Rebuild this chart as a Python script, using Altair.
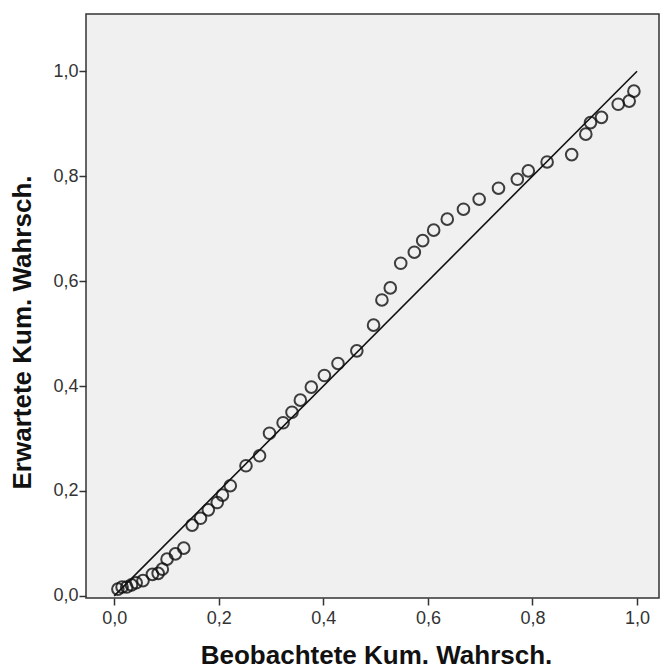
import altair as alt
import pandas as pd

# Observed cumulative probability (x) and expected cumulative probability (y)
observed = [0.007, 0.015, 0.024, 0.033, 0.042, 0.055, 0.073, 0.084, 0.092, 0.101,
            0.117, 0.133, 0.149, 0.165, 0.180, 0.197, 0.207, 0.222, 0.252, 0.278,
            0.297, 0.323, 0.340, 0.356, 0.377, 0.402, 0.428, 0.464, 0.496, 0.512,
            0.528, 0.548, 0.574, 0.590, 0.611, 0.637, 0.668, 0.698, 0.735, 0.771,
            0.792, 0.828, 0.875, 0.902, 0.911, 0.932, 0.964, 0.985, 0.994]
expected = [0.013, 0.017, 0.017, 0.021, 0.025, 0.029, 0.041, 0.043, 0.051, 0.070,
            0.080, 0.091, 0.135, 0.148, 0.164, 0.178, 0.192, 0.210, 0.248, 0.267,
            0.310, 0.330, 0.350, 0.373, 0.398, 0.420, 0.443, 0.467, 0.516, 0.564,
            0.587, 0.634, 0.655, 0.677, 0.697, 0.718, 0.737, 0.756, 0.777, 0.794,
            0.810, 0.827, 0.841, 0.880, 0.902, 0.912, 0.937, 0.943, 0.962]

ref_x = [0.0, 1.0]
ref_y = [0.0, 1.0]
tick_values = [0.0, 0.2, 0.4, 0.6, 0.8, 1.0]

pts = pd.DataFrame({"obs": observed, "exp": expected})
ref = pd.DataFrame({"obs": ref_x, "exp": ref_y})

FONT = "Liberation Sans"
label_expr = "replace(format(datum.value, '.1f'), '.', ',')"

xscale = alt.Scale(domain=[-0.054, 1.042], nice=False, zero=False)
yscale = alt.Scale(domain=[-0.004, 1.109], nice=False, zero=False)

xaxis = alt.Axis(values=tick_values, labelExpr=label_expr, grid=False,
                 domain=False, tickSize=7, tickColor="#333", tickWidth=1.5,
                 labelFont=FONT, labelFontSize=18, labelColor="#333", labelPadding=4,
                 title="Beobachtete Kum. Wahrsch.", titleFont=FONT, titleFontSize=26,
                 titleFontWeight="bold", titleColor="#111",
                 titleX=290, titleY=57, titleBaseline="middle", titleAlign="center")
yaxis = alt.Axis(values=tick_values, labelExpr=label_expr, grid=False,
                 domain=False, tickSize=7, tickColor="#333", tickWidth=1.5,
                 labelFont=FONT, labelFontSize=18, labelColor="#333", labelPadding=1,
                 title="Erwartete Kum. Wahrsch.", titleFont=FONT, titleFontSize=26,
                 titleFontWeight="bold", titleColor="#111",
                 titleX=-64, titleY=318, titleBaseline="middle", titleAlign="center",
                 titleAngle=270)

line = alt.Chart(ref).mark_line(color="#111", strokeWidth=1.6).encode(
    x=alt.X("obs:Q", scale=xscale, axis=xaxis),
    y=alt.Y("exp:Q", scale=yscale, axis=yaxis),
)

points = alt.Chart(pts).mark_point(shape="circle", filled=False, size=135,
                                   color="#111", strokeWidth=2, opacity=0.8).encode(
    x=alt.X("obs:Q", scale=xscale),
    y=alt.Y("exp:Q", scale=yscale),
)

chart = (line + points).properties(
    width=573, height=584,
    autosize=alt.AutoSizeParams(type="none"),
    padding={"left": 86, "top": 14, "right": 2, "bottom": 71},
    background="white",
).configure_view(
    fill="#f0f0f0", stroke="#333", strokeWidth=1.5
)

chart.save("out.html", embed_options={"renderer": "svg", "actions": False})
